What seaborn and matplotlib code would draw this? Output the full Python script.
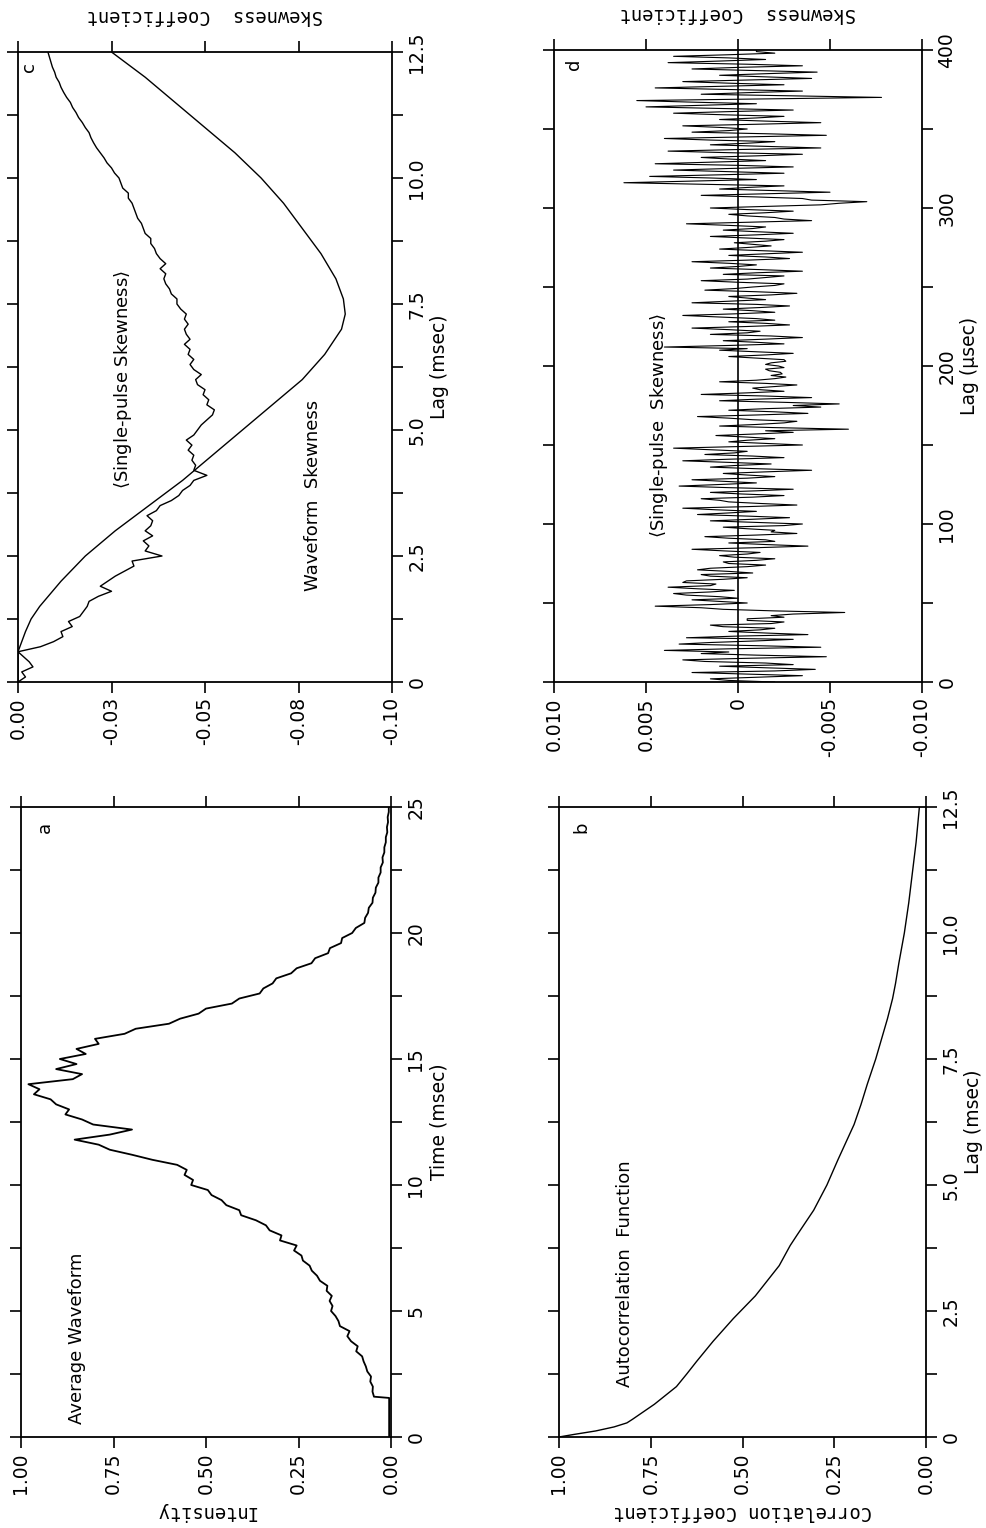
import numpy as np
import matplotlib
matplotlib.use("Agg")
import matplotlib.pyplot as plt
import seaborn as sns

# ---------------- data ----------------
# Panel a: average waveform (time in msec, intensity)
a_pre_time = [0.0, 1.55]
a_pre_int = [0.005, 0.005]
a_int = [
    0.046, 0.050, 0.049, 0.056, 0.054, 0.064, 0.068, 0.074, 0.078, 0.094,
    0.090, 0.108, 0.118, 0.112, 0.138, 0.142, 0.150, 0.162, 0.158, 0.166,
    0.160, 0.174, 0.172, 0.192, 0.200, 0.214, 0.220, 0.238, 0.242, 0.262,
    0.255, 0.300, 0.296, 0.328, 0.338, 0.365, 0.405, 0.410, 0.445, 0.458,
    0.485, 0.495, 0.540, 0.535, 0.558, 0.552, 0.578, 0.645, 0.700, 0.760,
    0.790, 0.855, 0.760, 0.700, 0.805, 0.835, 0.880, 0.870, 0.905, 0.920,
    0.965, 0.950, 0.980, 0.860, 0.835, 0.905, 0.850, 0.895, 0.825, 0.850,
    0.790, 0.800, 0.720, 0.690, 0.600, 0.570, 0.520, 0.500, 0.430, 0.410,
    0.355, 0.345, 0.320, 0.310, 0.270, 0.255, 0.215, 0.205, 0.170, 0.165,
    0.135, 0.132, 0.105, 0.095, 0.072, 0.070, 0.062, 0.060, 0.050, 0.049,
    0.042, 0.041, 0.034, 0.034, 0.028, 0.028, 0.022, 0.023, 0.018, 0.018,
    0.014, 0.014, 0.010, 0.011, 0.008, 0.009, 0.006, 0.006,
]
a_time_start, a_time_step = 1.6, 0.2

# Panel b: autocorrelation function
b_lag = [0, 0.05, 0.12, 0.2, 0.28, 0.35, 0.45, 0.65, 1.0, 1.25, 1.5, 1.9, 2.35, 2.8,
         3.4, 3.8, 4.0, 4.5, 5.0, 5.5, 6.2, 6.6, 7.0, 7.5, 8.3, 8.7, 9.0, 9.4, 10.0,
         10.6, 11.2, 11.5, 11.8, 12.5]
b_val = [1.0, 0.96, 0.90, 0.85, 0.815, 0.80, 0.78, 0.74, 0.68, 0.652, 0.625, 0.58,
         0.525, 0.465, 0.40, 0.37, 0.352, 0.306, 0.27, 0.24, 0.196, 0.177, 0.16, 0.137,
         0.105, 0.091, 0.083, 0.074, 0.059, 0.047, 0.037, 0.032, 0.027, 0.018]

# Panel c: waveform skewness (smooth)
c_lag_w = [0, 0.3, 0.6, 0.8, 1.0, 1.25, 1.5, 2.0, 2.5, 3.0, 3.5, 4.0, 4.5, 5.0, 5.5,
           6.0, 6.5, 7.0, 7.3, 7.6, 8.0, 8.5, 9.0, 9.5, 10.0, 10.5, 11.0, 11.5, 12.0, 12.5]
c_val_w = [0, 0, 0, -0.001, -0.002, -0.0035, -0.0058, -0.0115, -0.018, -0.026, -0.035,
           -0.044, -0.052, -0.060, -0.068, -0.076, -0.082, -0.0865, -0.0875, -0.087,
           -0.085, -0.081, -0.076, -0.071, -0.065, -0.058, -0.050, -0.042, -0.034, -0.025]

# Panel c: <single-pulse skewness>, lag step 0.1 msec
c_val_s = [
    0.000, -0.002, -0.001, -0.004, -0.003, -0.0015, 0.000, -0.006, -0.0095, -0.012,
    -0.0115, -0.0145, -0.0135, -0.0165, -0.0175, -0.0185, -0.019, -0.0215, -0.025, -0.022,
    -0.024, -0.026, -0.0285, -0.031, -0.0305, -0.0385, -0.034, -0.035, -0.0335, -0.036,
    -0.034, -0.0355, -0.036, -0.0345, -0.037, -0.038, -0.041, -0.043, -0.044, -0.046,
    -0.047, -0.0505, -0.047, -0.0475, -0.0465, -0.047, -0.0455, -0.0465, -0.045, -0.047,
    -0.048, -0.049, -0.0505, -0.052, -0.0525, -0.0505, -0.051, -0.0495, -0.050, -0.048,
    -0.0475, -0.049, -0.047, -0.046, -0.047, -0.0455, -0.046, -0.0445, -0.046, -0.045,
    -0.0445, -0.0455, -0.0445, -0.045, -0.0435, -0.0425, -0.0425, -0.041, -0.0405, -0.0395,
    -0.039, -0.0395, -0.038, -0.0395, -0.038, -0.037, -0.0365, -0.0355, -0.0355, -0.034,
    -0.0335, -0.033, -0.032, -0.0315, -0.031, -0.0305, -0.0295, -0.0295, -0.028, -0.0275,
    -0.027, -0.0258, -0.025, -0.0238, -0.023, -0.022, -0.021, -0.0202, -0.0195, -0.019,
    -0.018, -0.0172, -0.0162, -0.0155, -0.0146, -0.014, -0.013, -0.0122, -0.0115, -0.011,
    -0.0102, -0.0098, -0.0092, -0.0088, -0.0084, -0.008,
]
c_lag_step = 0.1

# Panel d: <single-pulse skewness>, lag step 1 usec, values in units of 1e-3
d_val_milli = [
    -2.0, 0.5, 1.5, -1.0, -3.5, -0.5, 2.5, -2.0, -4.2, -1.5, 1.0, -3.0, -1.5, 1.8, 3.0, -0.5, -4.8, -1.0, 2.0, 0.5,
    4.0, 0.5, -4.5, -1.0, 3.2, 1.5, -1.0, -3.0, 2.8, 0.2, -3.8, -1.5, 0.5, -1.2, -2.0, 0.8, 1.5, -1.8, -2.5, -0.5,
    -0.5, -2.5, -1.8, -3.0, -5.8, -2.0, 0.8, 2.0, 4.5, 1.5, -0.5, 1.0, 2.5, 0.0, 1.0, 2.8, 3.5, 1.5, 0.2, 2.2,
    3.8, 1.5, 1.2, 3.0, 2.8, 0.8, -0.5, 1.5, 2.0, -0.8, 0.5, 2.2, 1.5, -0.5, -1.5, 0.5, 0.8, -1.0, -2.0, 0.2,
    1.0, -0.5, -1.2, 0.8, 2.5, -1.0, -3.8, -1.5, 0.5, -2.0, -1.5, 0.5, 1.8, -1.0, -3.2, -1.8, -2.0, -0.5, 0.8, -2.5,
    -3.5, -1.0, 1.5, -0.8, -2.8, -0.5, 2.2, 0.5, -1.0, 1.2, 3.0, -0.5, -3.2, -1.2, 0.5, 1.0, 2.0, -0.8, -2.5, -0.2,
    1.5, -1.0, -3.0, 0.5, 3.2, 1.0, -1.0, 0.8, 2.5, -0.5, -2.0, -0.5, 0.8, -1.5, -4.0, -1.0, 1.5, 0.2, -1.8, 0.5,
    3.0, 0.5, -2.5, -0.8, 1.8, 0.2, -0.5, 1.5, 3.5, 0.0, -3.5, -1.5, 0.5, -0.5, -2.0, -0.5, 1.2, -1.0, -3.0, -1.5,
    -6.0, -2.0, 1.0, -1.0, -2.5, -3.2, -0.8, 0.5, 2.2, -1.0, -3.8, -2.0, 0.5, -1.5, -4.5, -3.0, -5.5, -2.5, 1.0, -1.0,
    -4.0, -1.5, 2.0, -0.5, -2.5, -1.2, -0.8, -2.0, -3.2, -1.5, 1.0, -1.0, -2.0, -2.6, -1.8, -2.4, -2.3, -1.7, -1.5, -2.5,
    -2.2, -1.5, -1.8, -2.6, -2.5, -1.0, 0.5, -1.5, -3.0, -1.0, 1.0, -0.5, 4.0, 0.5, -2.5, -1.0, 0.8, -1.5, -3.5, -1.8,
    1.5, -0.5, -1.2, 0.5, 2.5, -0.5, -2.8, -1.5, 0.5, -2.0, -1.0, 1.0, 3.0, 0.2, -2.0, -0.8, 0.8, -1.2, -2.8, -1.0,
    2.5, 0.5, -1.5, -0.5, 0.5, -1.8, -3.2, -1.0, 1.8, 0.2, -0.8, -2.0, -2.5, 0.0, 2.0, -0.5, -1.5, -2.5, 0.8, -1.0,
    -3.5, -1.2, 1.5, 0.0, -1.0, 0.5, 2.5, -0.5, -2.8, -1.5, 0.5, -1.5, -3.5, -1.2, 1.0, -0.5, -1.8, -0.8, 0.2, -1.5,
    -2.5, -0.5, 1.5, -1.0, -3.0, -1.0, 0.8, -0.8, -1.5, 0.5, 2.8, -0.5, -4.0, -2.5, -2.0, -0.5, 0.5, -1.5, -3.0, -0.5,
    1.5, -1.5, -4.5, -5.5, -7.0, -4.0, -3.5, -1.0, 2.0, -1.5, -5.0, -2.0, 1.0, -0.5, -2.5, 2.0, 6.2, 2.5, -1.0, 1.5,
    4.8, 1.0, -2.5, 0.5, 3.5, 0.5, -3.0, 0.0, 4.5, 1.5, -1.5, 0.5, 2.0, -1.0, -3.5, 0.5, 3.8, 0.0, -4.5, -1.5,
    1.5, -0.5, -2.0, 1.5, 4.0, -0.5, -4.8, -1.5, 2.5, 0.5, -0.5, 1.0, 3.0, -1.0, -4.5, -1.5, 1.0, -1.0, -2.5, 0.8,
    3.5, 0.5, -3.0, 1.0, 5.0, 2.0, -1.0, 2.5, 5.5, -1.0, -7.8, -3.0, 2.0, -0.5, -3.5, 0.5, 4.5, 1.0, -2.5, 0.5,
    3.0, -0.5, -4.0, -1.5, 1.0, -1.5, -4.3, -1.0, 2.5, 0.0, -3.5, -0.5, 3.8, 1.0, -1.5, 0.5, 3.5, 0.5, -2.0, -1.0,
    -1.0,
]
d_lag_step = 1.0

# tick labels
a_time_ticks = [0, 5, 10, 15, 20, 25]
a_time_labels = ["0", "5", "10", "15", "20", "25"]
unit_ticks = [1.0, 0.75, 0.5, 0.25, 0.0]
unit_labels = ["1.00", "0.75", "0.50", "0.25", "0.00"]
lag_ticks = [0, 2.5, 5.0, 7.5, 10.0, 12.5]
lag_labels = ["0", "2.5", "5.0", "7.5", "10.0", "12.5"]
skew_ticks = [0.0, -0.025, -0.05, -0.075, -0.1]
skew_labels = ["0.00", "-0.03", "-0.05", "-0.08", "-0.10"]
d_val_ticks = [0.01, 0.005, 0.0, -0.005, -0.01]
d_val_labels = ["0.010", "0.005", "0", "-0.005", "-0.010"]
d_lag_ticks = [0, 100, 200, 300, 400]
d_lag_labels = ["0", "100", "200", "300", "400"]

# ---------------- derived series ----------------
a_time = np.concatenate([a_pre_time, a_time_start + a_time_step * np.arange(len(a_int))])
a_vals = np.concatenate([a_pre_int, a_int])
c_lag_s = c_lag_step * np.arange(len(c_val_s))
d_lag = d_lag_step * np.arange(len(d_val_milli))
d_val = np.array(d_val_milli) * 1e-3

# ---------------- figure ----------------
sns.set_theme(style="ticks")
plt.rcParams['font.family'] = ['DejaVu Sans']
plt.rcParams['axes.linewidth'] = 1.3
for k in ['text.color', 'axes.labelcolor', 'xtick.color', 'ytick.color', 'axes.edgecolor']:
    plt.rcParams[k] = 'black'

fig = plt.figure(figsize=(9.86, 15.28), dpi=100)
W, H = 986.0, 1528.0


def make_ax(x0, y0, x1, y1):
    return fig.add_axes([x0 / W, 1 - y1 / H, (x1 - x0) / W, (y1 - y0) / H])


axA = make_ax(21, 807, 391, 1437)
axB = make_ax(559, 807, 926, 1437)
axC = make_ax(18, 52, 392, 682)
axD = make_ax(554, 50, 922, 682)

TICK_FS = 13.5
LABEL_FS = 13.5
MONO = ['DejaVu Sans Mono']


def style(ax, xlim, xticks, xlabels, ylim, yticks, ylabels, yminor, xlabel, ylabel, top_label=False):
    ax.set_xlim(*xlim)
    ax.set_ylim(*ylim)
    ax.set_xticks(xticks)
    ax.set_xticklabels(xlabels, rotation=90)
    ax.set_yticks(yticks)
    ax.set_yticklabels(ylabels, rotation=90, va='center')
    ax.set_yticks(yminor, minor=True)
    ax.yaxis.tick_right()
    ax.tick_params(which='both', direction='out', length=8, width=1.2, color='black',
                   top=True, bottom=True, left=True, right=True,
                   labelleft=False, labelright=True, labeltop=False, labelbottom=True,
                   labelsize=TICK_FS, pad=3, labelcolor='black')
    ax.yaxis.set_label_position('right')
    ax.set_ylabel(ylabel, rotation=90, fontsize=LABEL_FS, labelpad=3, color='black')
    if top_label:
        ax.xaxis.set_label_position('top')
        ax.set_xlabel(xlabel, rotation=180, fontsize=LABEL_FS, family=MONO, labelpad=14, color='black')
    else:
        ax.set_xlabel(xlabel, rotation=180, fontsize=LABEL_FS, family=MONO, labelpad=6, color='black')
    for s in ax.spines.values():
        s.set_visible(True)
        s.set_color('black')
        s.set_linewidth(1.3)
    ax.set_facecolor('white')


TXT = dict(rotation=90, ha='center', va='center', fontsize=13, color='black')

# Panel a
sns.lineplot(x=a_vals, y=a_time, orient='y', sort=False, estimator=None,
             color='black', linewidth=1.3, ax=axA)
style(axA, (1.0, 0.0), unit_ticks, unit_labels, (0, 25), a_time_ticks, a_time_labels,
      [2.5, 7.5, 12.5, 17.5, 22.5], 'Intensity', 'Time (msec)')
axA.text(0.85, 3.9, 'Average Waveform', **TXT)
axA.text(0.935, 24.2, 'a', **TXT)

# Panel b
sns.lineplot(x=b_val, y=b_lag, orient='y', sort=False, estimator=None,
             color='black', linewidth=1.0, ax=axB)
style(axB, (1.0, 0.0), unit_ticks, unit_labels, (0, 12.5), lag_ticks, lag_labels,
      [1.25, 3.75, 6.25, 8.75, 11.25], 'Correlation Coefficient', 'Lag (msec)')
axB.text(0.82, 3.25, 'Autocorrelation  Function', **TXT)
axB.text(0.94, 12.1, 'b', **TXT)

# Panel c
sns.lineplot(x=c_val_w, y=c_lag_w, orient='y', sort=False, estimator=None,
             color='black', linewidth=1.0, ax=axC)
sns.lineplot(x=c_val_s, y=c_lag_s, orient='y', sort=False, estimator=None,
             color='black', linewidth=1.0, ax=axC)
style(axC, (0.0, -0.1), skew_ticks, skew_labels, (0, 12.5), lag_ticks, lag_labels,
      [1.25, 3.75, 6.25, 8.75, 11.25], 'Skewness  Coefficient', 'Lag (msec)', top_label=True)
axC.text(-0.028, 6.0, r'$\langle$Single-pulse Skewness$\rangle$', **TXT)
axC.text(-0.079, 3.7, 'Waveform  Skewness', **TXT)
axC.text(-0.003, 12.2, 'c', **TXT)

# Panel d
axD.axvline(0.0, color='black', linewidth=1.2)
sns.lineplot(x=d_val, y=d_lag, orient='y', sort=False, estimator=None,
             color='black', linewidth=0.8, ax=axD)
style(axD, (0.01, -0.01), d_val_ticks, d_val_labels, (0, 400), d_lag_ticks, d_lag_labels,
      [50, 150, 250, 350], 'Skewness  Coefficient', 'Lag (μsec)', top_label=True)
axD.text(0.0043, 162, r'$\langle$Single-pulse  Skewness$\rangle$', **TXT)
axD.text(0.0089, 391, 'd', **TXT)

fig.savefig('out.png', dpi=100, facecolor='white')
